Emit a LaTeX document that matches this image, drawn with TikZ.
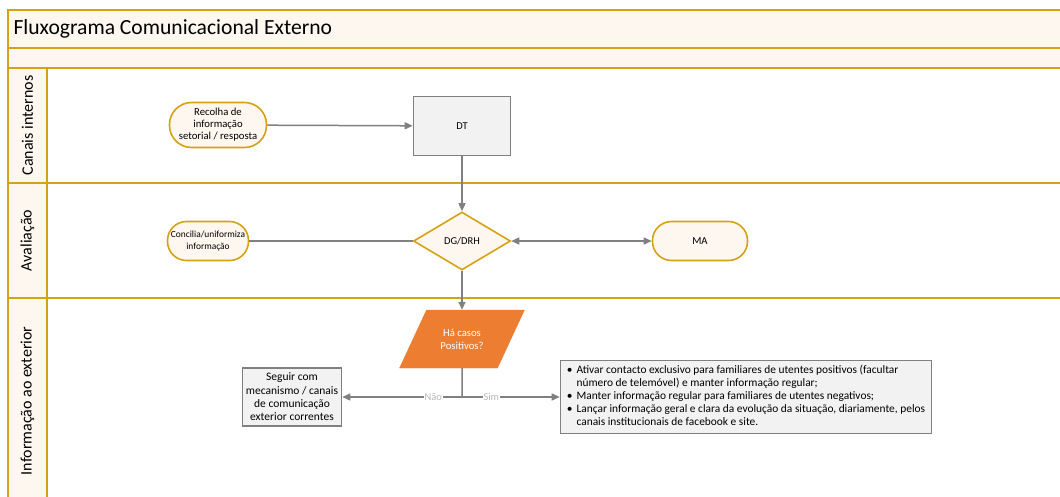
\documentclass[tikz,border=0pt]{standalone}
\usepackage{fontspec}
\setmainfont{Carlito}
\usetikzlibrary{arrows.meta, positioning, shapes.geometric}
\definecolor{lanegold}{RGB}{214,161,18}
\definecolor{lanebg}{RGB}{254,247,240}
\definecolor{boxgray}{RGB}{242,242,242}
\definecolor{linegray}{RGB}{128,128,128}
\definecolor{decorange}{RGB}{237,125,49}

\begin{document}
\begin{tikzpicture}[x=1pt, y=-1pt,
    band/.style={draw=lanegold, line width=2pt, fill=lanebg},
    lanebody/.style={draw=lanegold, line width=2pt, fill=white},
    lanelbl/.style={rotate=90, font=\fontsize{16}{18}\selectfont},
    pill/.style={rectangle, rounded corners=19pt, draw=lanegold, line width=1.6pt,
      fill=lanebg, align=center, inner sep=2pt, font=\fontsize{10.7}{12}\selectfont},
    task/.style={rectangle, draw=linegray, line width=1.6pt, fill=boxgray,
      align=center, font=\fontsize{10.5}{12}\selectfont},
    decision/.style={diamond, draw=lanegold, line width=1.6pt, fill=lanebg,
      aspect=1.67, inner sep=0pt, minimum width=97pt, minimum height=58pt,
      font=\fontsize{10.5}{12}\selectfont},
    question/.style={trapezium, trapezium left angle=55, trapezium right angle=125,
      trapezium stretches=true, fill=decorange, draw=decorange, text=white,
      minimum width=125pt, minimum height=58pt, align=center,
      font=\fontsize{10.7}{13}\selectfont},
    line/.style={draw=linegray, line width=1.5pt},
    arr/.style={line, -{Triangle[length=8pt, width=7pt]}},
    dblarr/.style={line, {Triangle[length=8pt, width=7pt]}-{Triangle[length=8pt, width=7pt]}},
    lbl/.style={text=black!28, fill=white, inner sep=1pt, font=\fontsize{10.5}{12}\selectfont}]

  \useasboundingbox (0,0) rectangle (1060,496);
  \fill[white] (0,0) rectangle (1060,496);
  \clip (0,0) rectangle (1060,496);

  % cabecalho
  \draw[band] (8,10) rectangle (1080,48);
  \draw[band] (8,48) rectangle (1080,68);
  \node[anchor=west, font=\fontsize{21.6}{24}\selectfont] (titulo) at (10,29) {Fluxograma Comunicacional Externo};

  % raias
  \draw[lanebody] (47,68) rectangle (1080,183);
  \draw[lanebody] (47,183) rectangle (1080,298);
  \draw[lanebody] (47,298) rectangle (1080,504);
  \draw[band] (8,68) rectangle (47,183);
  \draw[band] (8,183) rectangle (47,298);
  \draw[band] (8,298) rectangle (47,504);
  \node[lanelbl] (raia1) at (27.5,125.5) {Canais internos};
  \node[lanelbl] (raia2) at (27.5,240.5) {Avaliação};
  \node[lanelbl] (raia3) at (27.5,401) {Informação ao exterior};

  % nos
  \node[pill, minimum width=97pt, minimum height=45pt, rounded corners=22pt] (recolha) at (218,125)
    {Recolha de\\informação\\setorial / resposta};
  \node[task, minimum width=97pt, minimum height=59pt] (dt) at (462,126) {DT};
  \node[decision] (dg) at (462,241) {DG/DRH};
  \node[pill, minimum width=81pt, minimum height=39pt, inner sep=1pt,
    font=\fontsize{9.4}{12}\selectfont] (concilia) at (208,241)
    {Concilia/uniformiza\\informação};
  \node[pill, minimum width=95pt, minimum height=39pt] (ma) at (700,241) {MA};
  \node[question] (casos) at (462,339) {Há casos\\Positivos?};
  \node[task, minimum width=99pt, minimum height=58pt, inner sep=2pt,
    font=\fontsize{11.5}{13.3}\selectfont] (seguir) at (292,397)
    {Seguir com\\mecanismo / canais\\de comunicação\\exterior correntes};
  \node[task, minimum width=371pt, minimum height=73pt, inner sep=2pt,
    font=\fontsize{11.4}{13}\selectfont] (acoes) at (746,397) {%
    \begin{tabular}{@{}l@{\hspace{4pt}}l@{}}
    \textbullet & Ativar contacto exclusivo para familiares de utentes positivos (facultar\\
      & número de telemóvel) e manter informação regular;\\
    \textbullet & Manter informação regular para familiares de utentes negativos;\\
    \textbullet & Lançar informação geral e clara da evolução da situação, diariamente, pelos\\
      & canais institucionais de facebook e site.
    \end{tabular}};
  \coordinate (split) at (462,397);

  % ligacoes
  \draw[arr] (recolha) -- (dt);
  \draw[arr] (dt) -- (dg);
  \draw[line] (concilia) -- (dg);
  \draw[dblarr] (dg) -- (ma);
  \draw[arr] (dg) -- (casos);
  \draw[line] (casos.south) -- (split);
  \draw[arr] (split) -- node[lbl, pos=0.24] {Não} (seguir);
  \draw[arr] (split) -- node[lbl, pos=0.3] {Sim} (acoes);
\end{tikzpicture}
\end{document}
